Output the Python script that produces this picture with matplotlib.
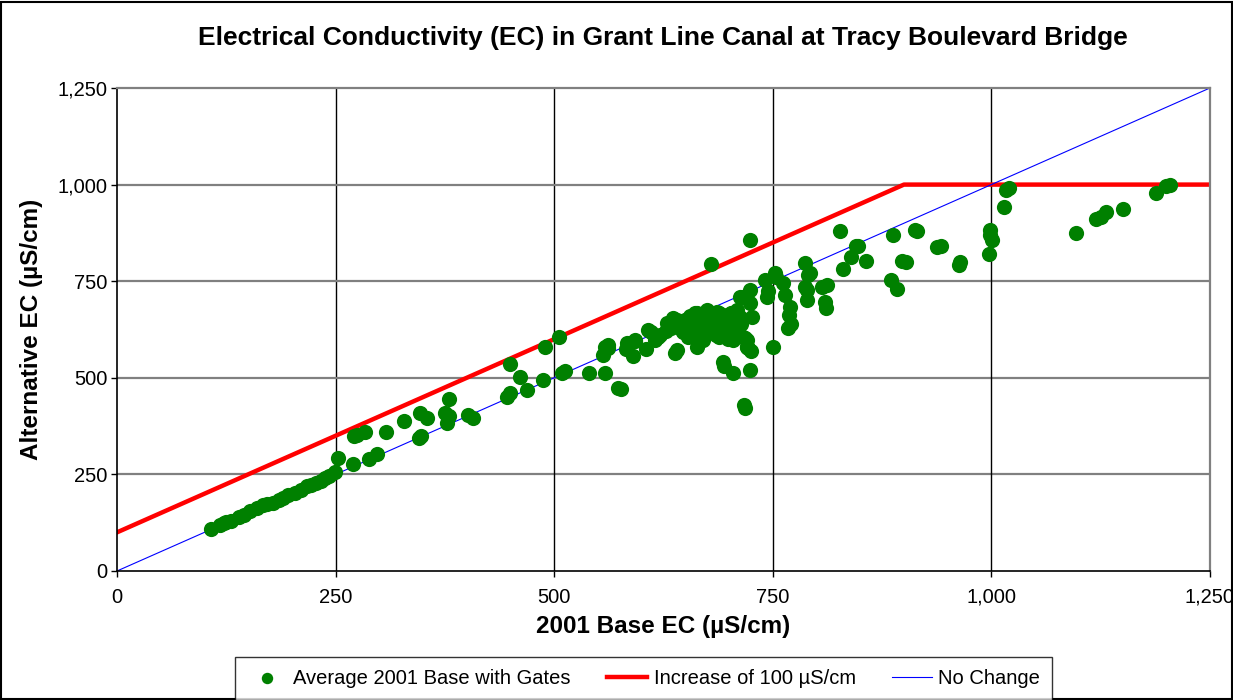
import matplotlib.pyplot as plt
import numpy as np
from matplotlib.patches import Rectangle
from matplotlib.ticker import FuncFormatter

plt.rcParams['font.family'] = ['Liberation Sans', 'DejaVu Sans']

# 2001 base EC vs alternative EC (uS/cm), daily averages with gates
base_ec = [107, 118, 122, 125, 130, 139, 145, 152, 160, 167, 172, 178, 185, 190,
           196, 203, 210, 217, 222, 228, 233, 238, 243, 249, 253, 270, 271, 274,
           284, 288, 297, 308, 328, 345, 348, 347, 355, 375, 377, 380, 380, 401,
           407, 446, 449, 449, 461, 469, 487, 489, 505, 509, 512, 540, 558, 556,
           561, 573, 576, 582, 590, 593, 605, 607, 615, 617, 621, 629, 628, 638,
           640, 641, 646, 644, 650, 653, 655, 657, 661, 663, 665, 667, 668, 670,
           672, 675, 678, 679, 680, 683, 685, 686, 689, 689, 690, 692, 693, 693,
           694, 696, 697, 699, 700, 702, 703, 705, 705, 706, 707, 709, 710, 712,
           713, 714, 716, 716, 717, 718, 720, 721, 722, 724, 724, 724, 724, 726,
           725, 741, 743, 745, 750, 752, 754, 762, 764, 767, 769, 770, 771, 787,
           790, 789, 789, 787, 793, 806, 810, 811, 812, 827, 830, 839, 845, 848,
           857, 887, 885, 892, 898, 902, 913, 915, 938, 942, 963, 964, 997, 999,
           1001, 999, 1015, 1017, 1020, 1097, 1120, 1125, 1131, 1150, 1188, 1200,
           1204, 558, 562, 592, 619, 647, 651, 663, 674, 682, 703, 709, 718, 721,
           583, 611, 634, 636, 648, 658, 677, 684, 698, 711]
alt_ec = [108, 120, 123, 127, 130, 140, 146, 155, 162, 170, 174, 176, 185, 190,
          197, 203, 210, 219, 223, 228, 232, 240, 245, 255, 293, 277, 349, 352,
          360, 290, 303, 360, 389, 345, 350, 409, 396, 410, 384, 400, 445, 404,
          396, 451, 460, 536, 503, 468, 494, 580, 606, 513, 518, 512, 512, 558,
          585, 473, 470, 574, 556, 596, 574, 624, 598, 604, 612, 642, 620, 564,
          572, 650, 624, 640, 650, 606, 660, 630, 668, 580, 600, 632, 660, 598,
          646, 675, 624, 795, 660, 640, 612, 670, 668, 606, 630, 650, 624, 542,
          530, 660, 624, 600, 640, 668, 650, 598, 512, 630, 660, 675, 620, 658,
          710, 640, 606, 710, 430, 422, 580, 598, 577, 857, 727, 694, 520, 658,
          570, 753, 710, 725, 580, 771, 760, 745, 714, 629, 662, 684, 640, 797,
          766, 727, 701, 736, 770, 736, 697, 680, 740, 880, 781, 813, 841, 840,
          802, 870, 753, 730, 802, 800, 882, 880, 839, 840, 793, 800, 820, 882,
          856, 870, 941, 986, 990, 876, 910, 915, 930, 936, 979, 997,
          998, 580, 577, 598, 606, 619, 650, 668, 668, 642, 668, 650, 603, 580,
          590, 618, 628, 655, 636, 645, 652, 616, 662, 645]

# threshold lines
limit_x = [0, 900, 1250]
limit_y = [100, 1000, 1000]
same_x = [0, 1250]
same_y = [0, 1250]

ticks = [0, 250, 500, 750, 1000, 1250]

fig = plt.figure(figsize=(12.33, 7.0), dpi=100)
ax = fig.add_axes([0.0949, 0.1843, 0.8864, 0.69])

ax.scatter(base_ec, alt_ec, s=120, color='#008000', zorder=3,
           label='Average 2001 Base with Gates', linewidths=0)
ax.plot(limit_x, limit_y, color='#FF0000', lw=3.2, zorder=2,
        label='Increase of 100 \u00b5S/cm')
ax.plot(same_x, same_y, color='#0000FF', lw=0.8, zorder=2, label='No Change')

ax.set_xlim(0, 1250)
ax.set_ylim(0, 1250)
ax.set_xticks(ticks)
ax.set_yticks(ticks)
fmt = FuncFormatter(lambda v, p: f'{int(v):,}')
ax.xaxis.set_major_formatter(fmt)
ax.yaxis.set_major_formatter(fmt)
ax.tick_params(labelsize=14.5, length=4, width=1, color='black')
ax.tick_params(axis='x', pad=8)
ax.tick_params(axis='y', pad=3)

for v in ticks[1:-1]:
    ax.axvline(v, color='black', lw=1, zorder=1)
    ax.axhline(v, color='#808080', lw=1.6, zorder=1)
for side in ['top', 'right']:
    ax.spines[side].set_color('#808080')
    ax.spines[side].set_linewidth(1.6)
for side in ['left', 'bottom']:
    ax.spines[side].set_linewidth(1.2)

ax.set_xlabel('2001 Base EC (\u00b5S/cm)', fontsize=17.5, fontweight='bold', labelpad=6)
ax.set_ylabel('Alternative EC (\u00b5S/cm)', fontsize=17.5, fontweight='bold', labelpad=10)
fig.text(0.538, 0.946, 'Electrical Conductivity (EC) in Grant Line Canal at Tracy Boulevard Bridge',
         ha='center', va='center', fontsize=19, fontweight='bold')

leg = fig.legend(loc='lower center', bbox_to_anchor=(0.522, -0.014), ncol=3,
                 fontsize=14.5, frameon=True, fancybox=False, edgecolor='black',
                 handlelength=2.0, columnspacing=1.8, handletextpad=0.3,
                 borderpad=0.6, markerscale=0.75)
leg.get_frame().set_linewidth(1.0)

fig.patches.append(Rectangle((0.001, 0.001), 0.998, 0.996, transform=fig.transFigure,
                             fill=False, edgecolor='black', lw=1.5))

fig.savefig('out.png', dpi=100)
